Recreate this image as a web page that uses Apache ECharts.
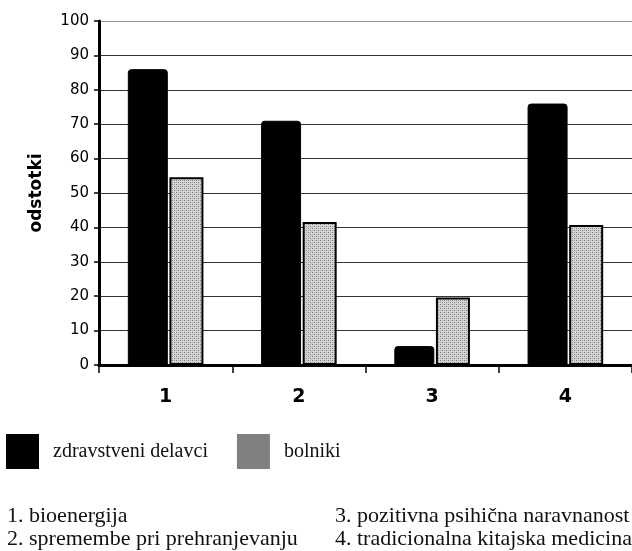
<!DOCTYPE html>
<html>
<head>
<meta charset="utf-8">
<script src="https://cdn.jsdelivr.net/npm/echarts@6/dist/echarts.min.js"></script>
<style>
html,body{margin:0;padding:0;background:#fff;}
#main{width:632px;height:551px;}
</style>
</head>
<body>
<div id="main"></div>
<script>
var categories = ['1', '2', '3', '4'];
var seriesNames = ['zdravstveni delavci', 'bolniki'];
var zdravstveniDelavci = [86, 71, 5.5, 76];
var bolniki = [54.6, 41.6, 19.6, 40.7];
var yTicks = [0, 10, 20, 30, 40, 50, 60, 70, 80, 90, 100];
var yAxisTitle = 'odstotki';
var notesLeft = ['1. bioenergija', '2. spremembe pri prehranjevanju'];
var notesRight = ['3. pozitivna psihična naravnanost', '4. tradicionalna kitajska medicina'];

function dotPattern() {
  var c = document.createElement('canvas');
  c.width = 4; c.height = 4;
  var g = c.getContext('2d');
  g.fillStyle = '#d4d4d4';
  g.fillRect(0, 0, 4, 4);
  g.fillStyle = '#7a7a7a';
  g.fillRect(0, 0, 1, 1);
  g.fillRect(2, 2, 1, 1);
  g.fillStyle = '#a8a8a8';
  g.fillRect(2, 0, 1, 1);
  g.fillRect(0, 2, 1, 1);
  return c;
}

var chart = echarts.init(document.getElementById('main'), null, {renderer: 'canvas'});
var serif = 'Liberation Serif';
var graphics = [];
notesLeft.forEach(function (t, i) {
  graphics.push({type: 'text', left: 7, top: 505 + i * 23,
    style: {text: t, font: '22px "' + serif + '"', fill: '#111'}});
});
notesRight.forEach(function (t, i) {
  graphics.push({type: 'text', left: 335, top: 505 + i * 23,
    style: {text: t, font: '22px "' + serif + '"', fill: '#111'}});
});

chart.setOption({
  animation: false,
  backgroundColor: '#fff',
  grid: {left: 99, top: 21, width: 538, height: 344, containLabel: false},
  legend: {
    left: 6, top: 434, padding: 0,
    itemWidth: 33, itemHeight: 35, itemGap: 29,
    icon: 'rect',
    selectedMode: false,
    textStyle: {fontFamily: serif, fontSize: 20, color: '#111', padding: [0, 0, 0, 9]},
    data: [
      {name: seriesNames[0], itemStyle: {color: '#000', borderWidth: 0}},
      {name: seriesNames[1], itemStyle: {color: '#808080', borderWidth: 0}}
    ]
  },
  xAxis: {
    type: 'category',
    data: categories,
    axisLine: {lineStyle: {color: '#000', width: 3}},
    axisTick: {show: true, length: 8, lineStyle: {color: '#000', width: 1.5}},
    axisLabel: {fontFamily: 'DejaVu Sans', fontWeight: 'bold', fontSize: 19, color: '#000', margin: 23},
    splitLine: {show: false}
  },
  yAxis: {
    type: 'value',
    min: yTicks[0], max: yTicks[yTicks.length - 1], interval: yTicks[1] - yTicks[0],
    name: yAxisTitle,
    nameLocation: 'middle',
    nameGap: 54,
    nameTextStyle: {fontFamily: 'DejaVu Sans', fontWeight: 'bold', fontSize: 17, color: '#000'},
    axisLine: {show: true, lineStyle: {color: '#000', width: 3}},
    axisTick: {show: true, length: 5, lineStyle: {color: '#000', width: 1.5}},
    axisLabel: {fontFamily: 'DejaVu Sans', fontSize: 15, color: '#000', margin: 10},
    splitLine: {show: true, lineStyle: {color: ['#333', '#333', '#333', '#333', '#333', '#333', '#333', '#333', '#333', '#333', '#9a9a9a'], width: 1.2}}
  },
  series: [
    {
      name: seriesNames[0], type: 'bar', data: zdravstveniDelavci,
      barWidth: 40,
      itemStyle: {color: '#000', borderColor: '#000', borderWidth: 1, borderRadius: [3, 3, 0, 0]}
    },
    {
      name: seriesNames[1], type: 'bar', data: bolniki,
      barWidth: 34, barGap: '4%',
      itemStyle: {color: {image: dotPattern(), repeat: 'repeat'}, borderColor: '#000', borderWidth: 2}
    }
  ],
  graphic: graphics
});
</script>
</body>
</html>
